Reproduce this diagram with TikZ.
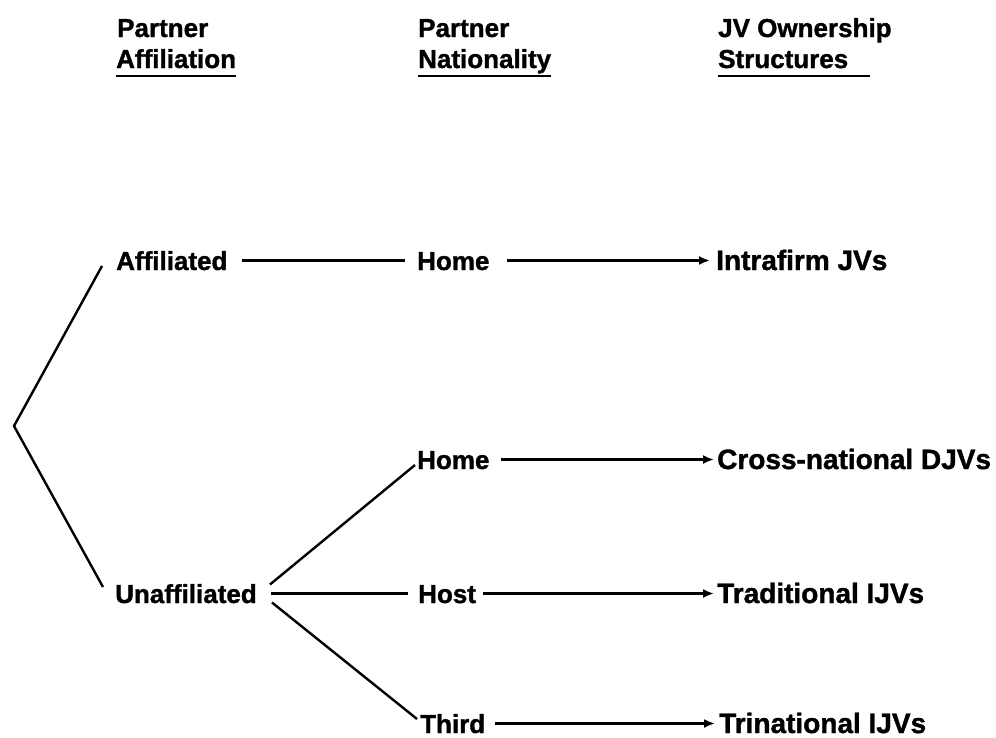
\documentclass[tikz,border=0pt]{standalone}
\usepackage{fontspec}
\setmainfont{Liberation Sans}[BoldFeatures={FakeBold=1.3}]
\usetikzlibrary{arrows.meta}
\begin{document}
\begin{tikzpicture}[x=1pt,y=-1pt,
  lbl/.style={anchor=base west,inner sep=0pt,text height=19pt,text depth=0pt,
    font=\fontsize{26}{31}\selectfont\bfseries},
  wide/.style={font=\fontsize{28}{31}\selectfont\bfseries},
  conn/.style={line width=2.4pt},
  arr/.style={line width=2.4pt,-{Latex[length=11pt,width=9pt]}},
  uline/.style={line width=2.3pt}]
\useasboundingbox (0,0) rectangle (996,737);
% headers
\node[lbl] (h1a) at (117,37) {Partner};
\node[lbl] (h1b) at (116,68) {Affiliation};
\node[lbl] (h2a) at (418,37) {Partner};
\node[lbl] (h2b) at (418,68) {Nationality};
\node[lbl] (h3a) at (718,37) {JV Ownership};
\node[lbl] (h3b) at (718,68) {Structures};
\draw[uline] ([yshift=-8pt]h1b.base west) -- ([yshift=-8pt]h1b.base east);
\draw[uline] ([yshift=-8pt]h2b.base west) -- ([yshift=-8pt]h2b.base east);
\draw[uline] ([yshift=-8pt]h3b.base west) -- ([xshift=22pt,yshift=-8pt]h3b.base east);
% rows
\node[lbl] (aff) at (116,270) {Affiliated};
\node[lbl] (home1) at (417,270) {Home};
\node[lbl,wide] (intra) at (716,270) {Intrafirm JVs};
\node[lbl] (home2) at (417,469) {Home};
\node[lbl,wide] (cross) at (717,469) {Cross-national DJVs};
\node[lbl] (unaff) at (115,603) {Unaffiliated};
\node[lbl] (host) at (418,603) {Host};
\node[lbl,wide] (trad) at (717,603) {Traditional IJVs};
\node[lbl] (third) at (420,733) {Third};
\node[lbl,wide] (trin) at (719,733) {Trinational IJVs};
\coordinate (v) at (14,426);
% connectors
\draw[conn,line join=miter] ([shift={(-14pt,4pt)}]aff.base west) -- (v) -- ([shift={(-12pt,16pt)}]unaff.base west);
\draw[conn] ([xshift=14pt]aff.east) -- ([xshift=-12pt]home1.west);
\draw[arr] ([xshift=17pt]home1.east) -- ([xshift=-6pt]intra.west);
\draw[conn] ([shift={(13pt,9pt)}]unaff.east) -- ([shift={(-2pt,4pt)}]home2.base west);
\draw[conn] ([xshift=14pt]unaff.east) -- ([xshift=-10pt]host.west);
\draw[conn] ([shift={(15pt,-9pt)}]unaff.east) -- ([shift={(-3pt,14pt)}]third.base west);
\draw[arr] ([xshift=11pt]home2.east) -- ([xshift=-3pt]cross.west);
\draw[arr] ([xshift=7pt]host.east) -- ([xshift=-3pt]trad.west);
\draw[arr] ([xshift=10pt]third.east) -- ([xshift=-4pt]trin.west);
\end{tikzpicture}
\end{document}
